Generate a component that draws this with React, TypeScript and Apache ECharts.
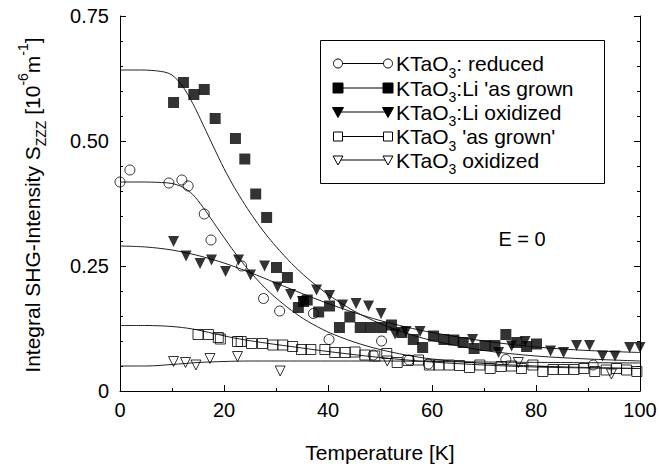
import React, { useEffect, useRef } from "react";
import * as echarts from "echarts";

const FONT = "'Liberation Sans', Arial, Helvetica, sans-serif";

// measured points [T (K), S_zzz]
const reducedPts = [
  [0, 0.418], [1.9, 0.442], [9.4, 0.416], [11.9, 0.422], [13.1, 0.41], [16.2, 0.354],
  [17.5, 0.302], [23.4, 0.25], [27.6, 0.185], [30.7, 0.16], [37.2, 0.155], [40.2, 0.103],
  [48.7, 0.072], [50.3, 0.1], [55.6, 0.062], [59.3, 0.054], [74.2, 0.063], [91, 0.052],
];
const liGrownPts = [
  [10.3, 0.577], [12.2, 0.617], [14.2, 0.593], [16.2, 0.603], [18.3, 0.545], [22.2, 0.505],
  [24, 0.464], [26.1, 0.394], [28.2, 0.347], [30.1, 0.247], [32.2, 0.227], [34.3, 0.167],
  [35.3, 0.179], [36, 0.182], [38.2, 0.158], [40.3, 0.17], [42.2, 0.127], [44.2, 0.148],
  [46.2, 0.127], [48.2, 0.127], [50.3, 0.127], [52.2, 0.132], [54.2, 0.117], [56.4, 0.103],
  [58.2, 0.087], [60.3, 0.11], [62.3, 0.103], [64.2, 0.102], [66, 0.097], [68.1, 0.085],
  [70.2, 0.091], [72.1, 0.091], [74.2, 0.113], [76.3, 0.097], [78.2, 0.089], [80.1, 0.094],
];
const liOxPts = [
  [10.3, 0.299], [12.7, 0.27], [15.4, 0.255], [17.6, 0.262], [20.3, 0.239], [22.8, 0.262],
  [25.1, 0.232], [27.8, 0.25], [30.3, 0.208], [32.8, 0.193], [35.1, 0.179], [37.8, 0.202],
  [40.3, 0.191], [42.8, 0.172], [45.4, 0.175], [47.8, 0.17], [50.2, 0.155], [52.9, 0.114],
  [55, 0.119], [57.7, 0.119], [67.8, 0.103], [72.8, 0.077], [75.3, 0.09], [77.9, 0.099],
  [82.8, 0.08], [85.3, 0.077], [87.8, 0.091], [90.3, 0.091], [92.8, 0.07], [95.2, 0.07],
  [98, 0.087], [100, 0.087],
];
const grownPts = [
  [15, 0.113], [17, 0.113], [18.9, 0.107], [19.3, 0.104], [22.6, 0.099], [23.3, 0.099],
  [25.3, 0.095], [27.4, 0.095], [29.4, 0.092], [31.3, 0.092], [33.2, 0.089], [34.9, 0.083],
  [36.7, 0.083], [39.4, 0.083], [41.3, 0.077], [43.3, 0.077], [45.2, 0.078], [47.1, 0.072],
  [49, 0.07], [51.3, 0.075], [53.3, 0.057], [55.4, 0.061], [57.4, 0.062], [59.5, 0.052],
  [61.3, 0.052], [63.3, 0.052], [65.3, 0.051], [67.2, 0.047], [69.2, 0.052], [71.2, 0.045],
  [73.3, 0.049], [75.3, 0.05], [77.2, 0.045], [79.4, 0.052], [81.3, 0.039], [83.3, 0.043],
  [85.3, 0.043], [87.3, 0.043], [89.2, 0.045], [91.3, 0.039], [93.5, 0.042], [95.5, 0.045],
  [97.4, 0.042], [99.4, 0.039],
];
const oxPts = [
  [10.3, 0.059], [12.6, 0.057], [14.6, 0.052], [17.3, 0.065], [22.6, 0.069], [30.8, 0.04],
  [51.4, 0.06], [76.6, 0.057], [94.5, 0.034],
];

// fit curves
const reducedFit = [
  [0, 0.418], [4, 0.418], [8, 0.417], [10, 0.415], [12, 0.408], [14, 0.393], [16, 0.367],
  [18, 0.337], [20, 0.307], [22, 0.278], [24, 0.251], [26, 0.227], [28, 0.205], [30, 0.186],
  [33, 0.161], [36, 0.14], [40, 0.118], [45, 0.098], [50, 0.083], [55, 0.072], [60, 0.064],
  [70, 0.055], [80, 0.05], [90, 0.047], [100, 0.045],
];
const liGrownFit = [
  [0, 0.642], [4, 0.642], [8, 0.639], [10, 0.632], [12, 0.61], [14, 0.575], [16, 0.532],
  [18, 0.488], [20, 0.445], [22, 0.407], [24, 0.373], [26, 0.342], [28, 0.314], [30, 0.289],
  [33, 0.255], [36, 0.226], [40, 0.193], [45, 0.16], [50, 0.135], [55, 0.116], [60, 0.101],
  [70, 0.081], [80, 0.07], [90, 0.064], [100, 0.06],
];
const liOxFit = [
  [0, 0.29], [5, 0.288], [10, 0.282], [15, 0.271], [20, 0.256], [25, 0.237], [30, 0.216],
  [35, 0.195], [40, 0.175], [45, 0.157], [50, 0.141], [55, 0.128], [60, 0.117], [70, 0.1],
  [80, 0.088], [90, 0.081], [100, 0.077],
];
const grownFit = [
  [0, 0.131], [5, 0.131], [10, 0.129], [14, 0.124], [18, 0.115], [22, 0.106], [26, 0.099],
  [30, 0.093], [35, 0.086], [40, 0.079], [50, 0.067], [60, 0.058], [70, 0.052], [80, 0.048],
  [90, 0.046], [100, 0.045],
];
const oxFit = [
  [0, 0.05], [5, 0.05], [10, 0.053], [15, 0.057], [20, 0.059], [25, 0.06], [35, 0.06],
  [50, 0.06], [70, 0.058], [100, 0.056],
];

const legendLabels = [
  "{a|KTaO}{s|3}{a|: reduced}",
  "{a|KTaO}{s|3}{a|:Li 'as grown}",
  "{a|KTaO}{s|3}{a|:Li oxidized}",
  "{a|KTaO}{s|3}{a| 'as grown'}",
  "{a|KTaO}{s|3}{a| oxidized}",
];
const legendMarkers = ["openCircle", "filledSquare", "filledTriangle", "openSquare", "openTriangle"];

const richStyle = {
  a: { fontSize: 21, lineHeight: 32, verticalAlign: "middle", fontFamily: FONT, fill: "#000" },
  s: { fontSize: 14, lineHeight: 14, verticalAlign: "bottom", fontFamily: FONT, fill: "#000" },
  p: { fontSize: 14, lineHeight: 14, verticalAlign: "top", fontFamily: FONT, fill: "#000" },
};

function markerGraphic(kind: string, x: number, y: number): any {
  const open = { fill: "#fff", stroke: "#000", lineWidth: 1 };
  const filled = { fill: "#000", stroke: "#000", lineWidth: 1 };
  switch (kind) {
    case "openCircle":
      return { type: "circle", shape: { cx: x, cy: y, r: 4.5 }, style: open };
    case "filledSquare":
      return { type: "rect", shape: { x: x - 5, y: y - 5, width: 10, height: 10 }, style: filled };
    case "openSquare":
      return { type: "rect", shape: { x: x - 4.5, y: y - 4.5, width: 9, height: 9 }, style: open };
    case "filledTriangle":
      return { type: "polygon", shape: { points: [[x - 5.5, y - 4.5], [x + 5.5, y - 4.5], [x, y + 5.5]] }, style: filled };
    default:
      return { type: "polygon", shape: { points: [[x - 5, y - 4], [x + 5, y - 4], [x, y + 5]] }, style: open };
  }
}

function buildLegend(): any[] {
  const rowsY = [63.5, 88, 112, 136.5, 160];
  const els: any[] = [
    {
      type: "rect",
      shape: { x: 320.5, y: 40.5, width: 284, height: 143 },
      style: { fill: "#fff", stroke: "#000", lineWidth: 1 },
      z: 10,
    },
  ];
  rowsY.forEach((y, i) => {
    els.push({ type: "line", shape: { x1: 338, y1: y, x2: 388, y2: y }, style: { stroke: "#000", lineWidth: 1 }, z: 11 });
    const m1 = markerGraphic(legendMarkers[i], 338, y);
    const m2 = markerGraphic(legendMarkers[i], 388, y);
    m1.z = 12;
    m2.z = 12;
    els.push(m1, m2);
    els.push({
      type: "text",
      x: 396,
      y,
      z: 12,
      style: { text: legendLabels[i], rich: richStyle, verticalAlign: "middle", align: "left", fontFamily: FONT },
    });
  });
  return els;
}

const fitLine = (data: number[][]) => ({
  type: "line",
  data,
  showSymbol: false,
  smooth: 0.3,
  silent: true,
  lineStyle: { color: "#222", width: 1 },
  z: 1,
});

const scatter = (name: string, data: number[][], symbol: string, size: number, filled: boolean, rotate = 0) => ({
  type: "scatter",
  name,
  data,
  symbol,
  symbolSize: size,
  symbolRotate: rotate,
  itemStyle: filled
    ? { color: "#000", borderColor: "#000", borderWidth: 0 }
    : { color: "rgba(255,255,255,0)", borderColor: "#000", borderWidth: 1 },
  z: 3,
});

export default function App() {
  const ref = useRef<HTMLDivElement>(null);
  useEffect(() => {
    const chart = echarts.init(ref.current!, null, { renderer: "svg" });
    const axisLine = { show: true, lineStyle: { color: "#000", width: 1 } };
    const option: any = {
      animation: false,
      backgroundColor: "#fff",
      grid: { left: 120, right: 20, top: 16, bottom: 76, containLabel: false },
      xAxis: [
        {
          type: "value",
          min: 0,
          max: 100,
          interval: 20,
          axisLine,
          axisTick: { inside: true, length: 6, lineStyle: { color: "#000" } },
          minorTick: { show: true, splitNumber: 2, length: 3, lineStyle: { color: "#000" } },
          splitLine: { show: false },
          axisLabel: { fontSize: 20, color: "#000", margin: 9, fontFamily: FONT },
        },
      ],
      yAxis: [
        {
          type: "value",
          min: 0,
          max: 0.75,
          interval: 0.25,
          axisLine,
          axisTick: { inside: true, length: 6, lineStyle: { color: "#000" } },
          minorTick: { show: true, splitNumber: 5, length: 3, lineStyle: { color: "#000" } },
          splitLine: { show: false },
          axisLabel: {
            fontSize: 20,
            color: "#000",
            margin: 11,
            fontFamily: FONT,
            formatter: (v: number) => (v === 0 ? "0" : v.toFixed(2)),
          },
        },
        {
          type: "value",
          position: "right",
          min: 0,
          max: 0.75,
          interval: 0.25,
          axisLine,
          axisTick: { inside: true, length: 6, lineStyle: { color: "#000" } },
          minorTick: { show: true, splitNumber: 5, length: 3, lineStyle: { color: "#000" } },
          splitLine: { show: false },
          axisLabel: { show: false },
        },
      ],
      series: [
        fitLine(liGrownFit),
        fitLine(reducedFit),
        fitLine(liOxFit),
        fitLine(grownFit),
        fitLine(oxFit),
        scatter("KTaO3: reduced", reducedPts, "circle", 10, false),
        scatter("KTaO3:Li 'as grown", liGrownPts, "rect", 11, true),
        scatter("KTaO3:Li oxidized", liOxPts, "triangle", 11, true, 180),
        scatter("KTaO3 'as grown'", grownPts, "rect", 10, false),
        scatter("KTaO3 oxidized", oxPts, "triangle", 10, false, 180),
      ],
      graphic: [
        ...buildLegend(),
        {
          type: "text",
          x: 522,
          y: 239,
          style: { text: "E = 0", fontSize: 20, fontFamily: FONT, fill: "#000", align: "center", verticalAlign: "middle" },
        },
        {
          type: "text",
          x: 380,
          y: 452,
          style: { text: "Temperature [K]", fontSize: 21, fontFamily: FONT, fill: "#000", align: "center", verticalAlign: "middle" },
        },
        {
          type: "text",
          x: 32,
          y: 205,
          rotation: Math.PI / 2,
          style: {
            text: "{a|Integral SHG-Intensity S}{s|ZZZ}{a| [10}{p|-6}{a|m}{p|-1}{a|]}",
            rich: richStyle,
            align: "center",
            verticalAlign: "middle",
            fontFamily: FONT,
          },
        },
      ],
    };
    chart.setOption(option);
    return () => chart.dispose();
  }, []);
  return (
    <div
      ref={ref}
      style={{ position: "absolute", left: 0, top: 0, width: 660, height: 467, background: "#fff" }}
    />
  );
}
